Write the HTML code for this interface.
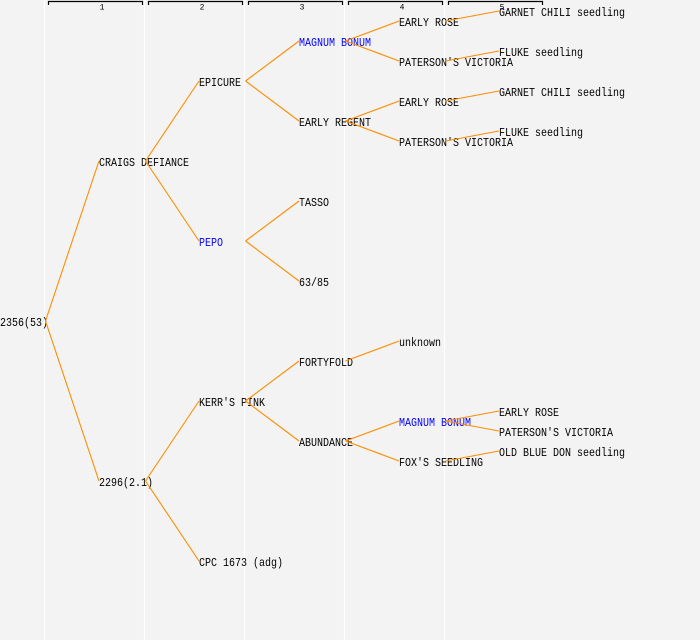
<!DOCTYPE html>
<html><head><meta charset="utf-8"><style>
html,body{margin:0;padding:0;background:#f3f3f3;}
svg{display:block;}
text{font-family:"Liberation Mono",monospace;font-size:12px;fill:#000;}
.b{fill:#0000ff;}
.h{font-size:8px;}
</style></head><body>
<svg width="700" height="640" viewBox="0 0 700 640" xmlns="http://www.w3.org/2000/svg">
<rect x="0" y="0" width="700" height="640" fill="#f3f3f3"/>
<g stroke="#ffffff" stroke-width="1.2">
<line x1="44.5" y1="0" x2="44.5" y2="640"/>
<line x1="144.5" y1="0" x2="144.5" y2="640"/>
<line x1="244.5" y1="0" x2="244.5" y2="640"/>
<line x1="344.5" y1="0" x2="344.5" y2="640"/>
<line x1="444.5" y1="0" x2="444.5" y2="640"/>
</g>
<g stroke="#000" stroke-width="1.2" fill="none">
<path d="M48.5,5 V1.5 H142.5 V5"/>
<path d="M148.5,5 V1.5 H242.5 V5"/>
<path d="M248.5,5 V1.5 H342.5 V5"/>
<path d="M348.5,5 V1.5 H442.5 V5"/>
<path d="M448.5,5 V1.5 H542.5 V5"/>
</g>
<text class="h" x="102" y="9.5" text-anchor="middle">1</text>
<text class="h" x="202" y="9.5" text-anchor="middle">2</text>
<text class="h" x="302" y="9.5" text-anchor="middle">3</text>
<text class="h" x="402" y="9.5" text-anchor="middle">4</text>
<text class="h" x="502" y="9.5" text-anchor="middle">5</text>

<!-- nodes -->
<text x="0" y="326" textLength="48" lengthAdjust="spacingAndGlyphs">2356(53)</text>
<text x="99" y="166" textLength="90" lengthAdjust="spacingAndGlyphs">CRAIGS DEFIANCE</text>
<text x="99" y="486" textLength="54" lengthAdjust="spacingAndGlyphs">2296(2.1)</text>
<text x="199" y="86" textLength="42" lengthAdjust="spacingAndGlyphs">EPICURE</text>
<text class="b" x="199" y="246" textLength="24" lengthAdjust="spacingAndGlyphs">PEPO</text>
<text x="199" y="406" textLength="66" lengthAdjust="spacingAndGlyphs">KERR'S PINK</text>
<text x="199" y="566" textLength="84" lengthAdjust="spacingAndGlyphs">CPC 1673 (adg)</text>
<text class="b" x="299" y="46" textLength="72" lengthAdjust="spacingAndGlyphs">MAGNUM BONUM</text>
<text x="299" y="126" textLength="72" lengthAdjust="spacingAndGlyphs">EARLY REGENT</text>
<text x="299" y="206" textLength="30" lengthAdjust="spacingAndGlyphs">TASSO</text>
<text x="299" y="286" textLength="30" lengthAdjust="spacingAndGlyphs">63/85</text>
<text x="299" y="366" textLength="54" lengthAdjust="spacingAndGlyphs">FORTYFOLD</text>
<text x="299" y="446" textLength="54" lengthAdjust="spacingAndGlyphs">ABUNDANCE</text>
<text x="399" y="26" textLength="60" lengthAdjust="spacingAndGlyphs">EARLY ROSE</text>
<text x="399" y="66" textLength="114" lengthAdjust="spacingAndGlyphs">PATERSON'S VICTORIA</text>
<text x="399" y="106" textLength="60" lengthAdjust="spacingAndGlyphs">EARLY ROSE</text>
<text x="399" y="146" textLength="114" lengthAdjust="spacingAndGlyphs">PATERSON'S VICTORIA</text>
<text x="399" y="346" textLength="42" lengthAdjust="spacingAndGlyphs">unknown</text>
<text class="b" x="399" y="426" textLength="72" lengthAdjust="spacingAndGlyphs">MAGNUM BONUM</text>
<text x="399" y="466" textLength="84" lengthAdjust="spacingAndGlyphs">FOX'S SEEDLING</text>
<text x="499" y="16" textLength="126" lengthAdjust="spacingAndGlyphs">GARNET CHILI seedling</text>
<text x="499" y="56" textLength="84" lengthAdjust="spacingAndGlyphs">FLUKE seedling</text>
<text x="499" y="96" textLength="126" lengthAdjust="spacingAndGlyphs">GARNET CHILI seedling</text>
<text x="499" y="136" textLength="84" lengthAdjust="spacingAndGlyphs">FLUKE seedling</text>
<text x="499" y="416" textLength="60" lengthAdjust="spacingAndGlyphs">EARLY ROSE</text>
<text x="499" y="436" textLength="114" lengthAdjust="spacingAndGlyphs">PATERSON'S VICTORIA</text>
<text x="499" y="456" textLength="126" lengthAdjust="spacingAndGlyphs">OLD BLUE DON seedling</text>

<!-- connectors -->
<g stroke="#ff8c00" stroke-width="1.1" fill="none">
<line x1="45.5" y1="321" x2="99" y2="161"/>
<line x1="45.5" y1="321" x2="99" y2="481"/>
<line x1="145.5" y1="161" x2="199" y2="81"/>
<line x1="145.5" y1="161" x2="199" y2="241"/>
<line x1="145.5" y1="481" x2="199" y2="401"/>
<line x1="145.5" y1="481" x2="199" y2="561"/>
<line x1="245.5" y1="81" x2="299" y2="41"/>
<line x1="245.5" y1="81" x2="299" y2="121"/>
<line x1="245.5" y1="241" x2="299" y2="201"/>
<line x1="245.5" y1="241" x2="299" y2="281"/>
<line x1="245.5" y1="401" x2="299" y2="361"/>
<line x1="245.5" y1="401" x2="299" y2="441"/>
<line x1="345.5" y1="41" x2="399" y2="21"/>
<line x1="345.5" y1="41" x2="399" y2="61"/>
<line x1="345.5" y1="121" x2="399" y2="101"/>
<line x1="345.5" y1="121" x2="399" y2="141"/>
<line x1="345.5" y1="361" x2="399" y2="341"/>
<line x1="345.5" y1="441" x2="399" y2="421"/>
<line x1="345.5" y1="441" x2="399" y2="461"/>
<line x1="445.5" y1="21" x2="499" y2="11"/>
<line x1="445.5" y1="61" x2="499" y2="51"/>
<line x1="445.5" y1="101" x2="499" y2="91"/>
<line x1="445.5" y1="141" x2="499" y2="131"/>
<line x1="445.5" y1="421" x2="499" y2="411"/>
<line x1="445.5" y1="421" x2="499" y2="431"/>
<line x1="445.5" y1="461" x2="499" y2="451"/>
</g>
</svg>
</body></html>
